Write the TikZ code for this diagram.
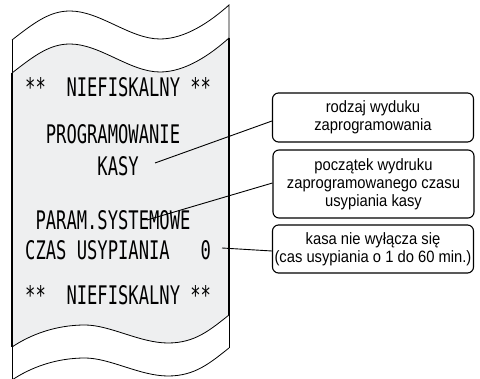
\documentclass[tikz,border=0pt]{standalone}
\usepackage{fontspec}
\newfontfamily\rcptfont[FakeStretch=0.67]{DejaVu Sans Mono}
\newfontfamily\boxfont[FakeStretch=0.9]{Liberation Sans}
\definecolor{paper}{RGB}{238,239,240}
\tikzset{
  rcpt/.style={anchor=base west, inner sep=0pt, font=\rcptfont\fontsize{25.6}{26}\selectfont},
  infobox/.style={draw, line width=1.1pt, rounded corners=6pt, minimum width=201pt, align=center, inner sep=0pt,
    font=\boxfont\fontsize{16.4}{18}\selectfont},
  conn/.style={line width=0.9pt},
  edge/.style={line width=0.8pt},
  thickedge/.style={line width=1.5pt}
}
\begin{document}
\begin{tikzpicture}[x=1pt,y=-1pt]
\useasboundingbox (0,0) rectangle (480,379);
% top white strip
\draw[edge] (12,40) .. controls (35,22) and (50,11) .. (70,11) .. controls (100,11) and (130,39) .. (160,39) .. controls (185,39) and (210,22) .. (229,5) -- (229,38);
\draw[edge] (12,40) -- (12,73);
% gray paper area
\fill[paper] (12,73) .. controls (35,55) and (50,44) .. (70,44) .. controls (100,44) and (130,72) .. (160,72) .. controls (185,72) and (210,55) .. (229,38)
  -- (229,315) .. controls (210,330) and (195,343) .. (168,343) .. controls (140,343) and (110,325) .. (85,325) .. controls (55,325) and (30,335) .. (12,347) -- cycle;
\draw[edge] (12,73) .. controls (35,55) and (50,44) .. (70,44) .. controls (100,44) and (130,72) .. (160,72) .. controls (185,72) and (210,55) .. (229,38);
\draw[thickedge] (229,38) -- (229,315);
\draw[thickedge] (12,73) -- (12,347);
\draw[edge] (229,315) .. controls (210,330) and (195,343) .. (168,343) .. controls (140,343) and (110,325) .. (85,325) .. controls (55,325) and (30,335) .. (12,347);
% bottom white strip
\draw[edge] (229,315) -- (229,348);
\draw[edge] (12,347) -- (12,379);
\draw[edge] (229,348) .. controls (210,363) and (195,376) .. (168,376) .. controls (140,376) and (110,358) .. (85,358) .. controls (55,358) and (30,368) .. (12,380);
% receipt text
\node[rcpt] (l1) at (25,97) {**~~NIEFISKALNY~**};
\node[rcpt] (l2) at (25,144) {~~PROGRAMOWANIE};
\node[rcpt] (l3) at (25,176) {~~~~~~~KASY};
\node[rcpt] (l4) at (25,230) {~PARAM.SYSTEMOWE};
\node[rcpt] (l5) at (25,260) {CZAS~USYPIANIA~~~0};
\node[rcpt] (l6) at (25,305) {**~~NIEFISKALNY~**};
% boxes
\node[infobox, minimum height=49pt] (b1) at (373,117.5) {rodzaj wyduku\\zaprogramowania};
\node[infobox, minimum height=68pt] (b2) at (373.5,184) {początek wydruku\\zaprogramowanego czasu\\usypiania kasy};
\node[infobox, minimum height=48pt] (b3) at (373,249) {kasa nie wyłącza się\\(cas usypiania o 1 do 60 min.)};
% connectors
\coordinate (c1) at (155,163);
\coordinate (c2) at (147,220);
\coordinate (c3) at (222,248);
\draw[conn] (c1) -- ([yshift=-3.5pt]b1.west);
\draw[conn] (c2) -- ([yshift=1pt]b2.west);
\draw[conn] (c3) -- ([yshift=-2pt]b3.west);
\end{tikzpicture}
\end{document}
